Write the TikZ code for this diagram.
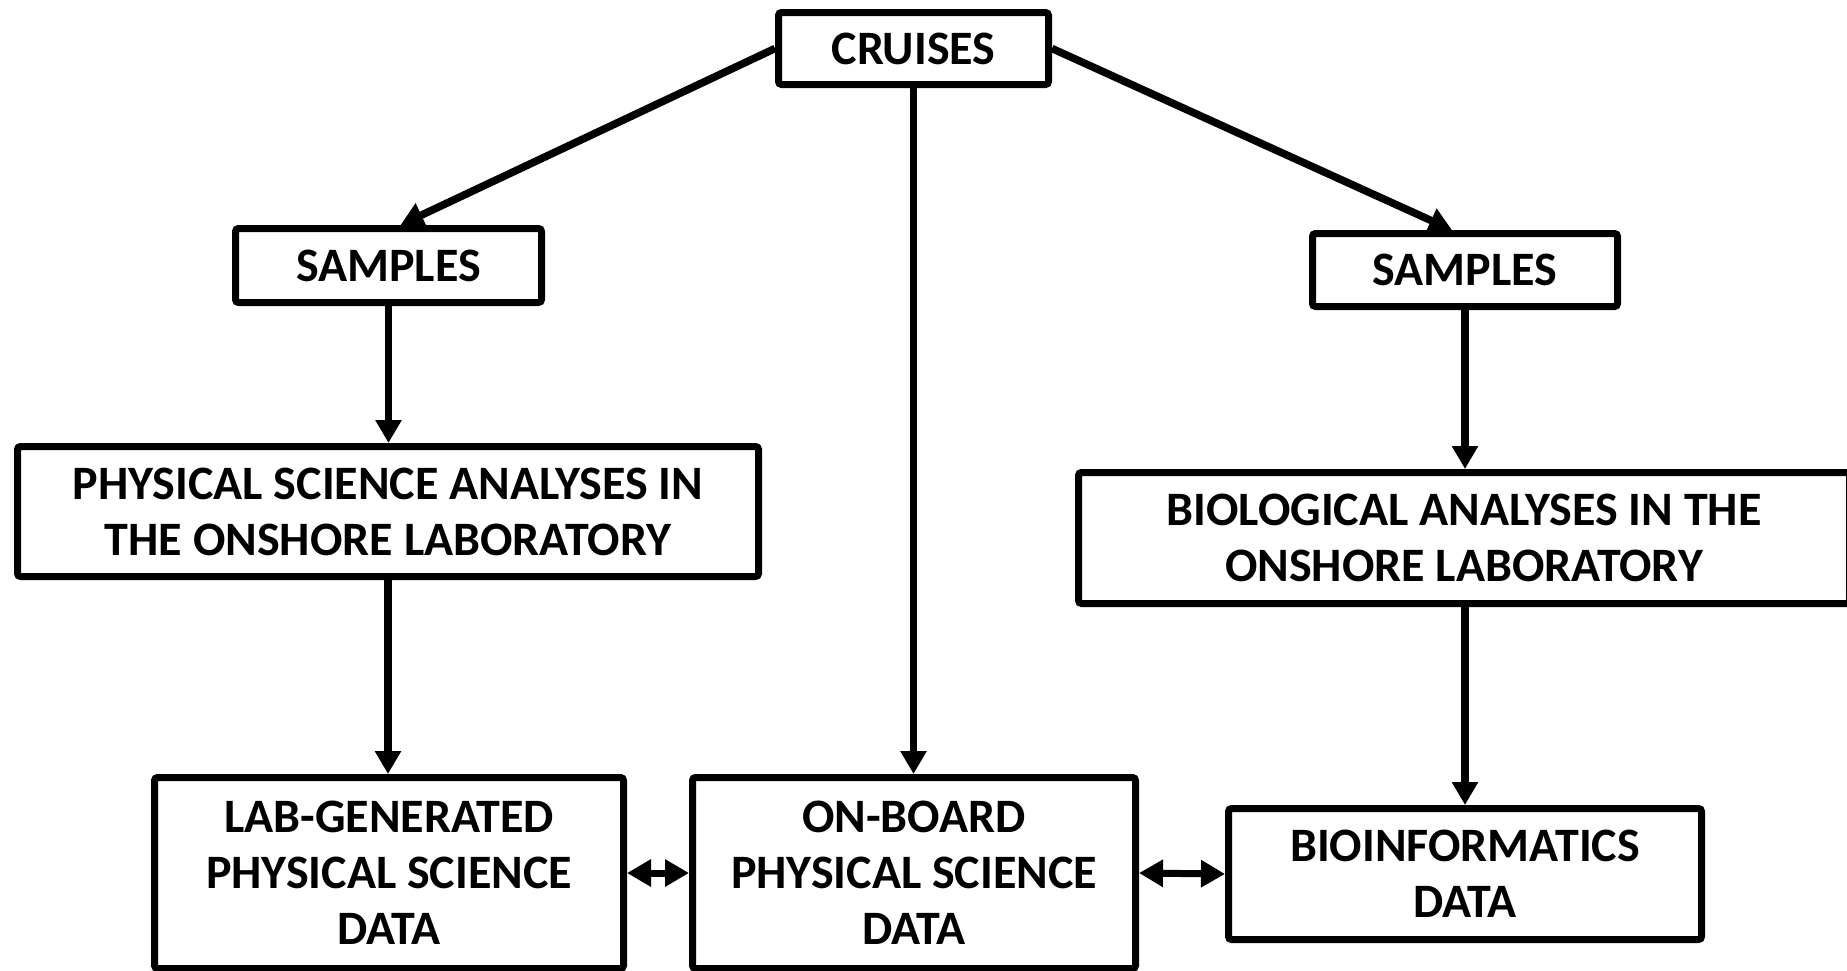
\documentclass[tikz,border=0pt]{standalone}
\usepackage{fontspec}
\setmainfont{Carlito}
\usetikzlibrary{arrows.meta,calc}
\begin{document}
\begin{tikzpicture}[x=0.5pt,y=-0.5pt,
  box/.style={draw=black,line width=3.5pt,rounded corners=1.5pt,fill=white,
    align=center,inner sep=0pt,font=\bfseries\fontsize{24}{28}\selectfont},
  flow/.style={line width=3.8pt,-{Triangle[length=11.5pt,width=12.5pt]}},
  both/.style={line width=3.5pt,{Triangle[length=12pt,width=13pt]}-{Triangle[length=12pt,width=13pt]}}]
\useasboundingbox (0,0) rectangle (1847,970);
% boxes
\node[box,minimum width=135pt,minimum height=36pt] (cru) at (913.5,48.5) {CRUISES};
\node[box,minimum width=153pt,minimum height=37pt] (ls) at (388.5,265.5) {SAMPLES};
\node[box,minimum width=152.5pt,minimum height=36.5pt] (rs) at (1465,270) {SAMPLES};
\node[box,minimum width=370.5pt,minimum height=65pt] (phys) at (388,511.5)
  {PHYSICAL SCIENCE ANALYSES IN\\THE ONSHORE LABORATORY};
\node[box,minimum width=385.5pt,minimum height=65.5pt] (bio) at (1464,538)
  {BIOLOGICAL ANALYSES IN THE\\ONSHORE LABORATORY};
\node[box,minimum width=234.5pt,minimum height=95.5pt] (lab) at (389,873)
  {LAB-GENERATED\\PHYSICAL SCIENCE\\DATA};
\node[box,minimum width=221.5pt,minimum height=95.5pt] (onb) at (914,873)
  {ON-BOARD\\PHYSICAL SCIENCE\\DATA};
\node[box,minimum width=236.5pt,minimum height=65.5pt] (binf) at (1465,874)
  {BIOINFORMATICS\\DATA};
% connectors
\draw[flow] (cru.west) -- ([xshift=6pt]ls.north);
\draw[flow] (cru.east) -- ([xshift=-6.5pt]rs.north);
\draw[flow] (cru.south) -- (cru.south |- onb.north);
\draw[flow] (ls.south) -- (ls.south |- phys.north);
\draw[flow] (phys.south) -- (phys.south |- lab.north);
\draw[flow] (rs.south) -- (rs.south |- bio.north);
\draw[flow] (rs.south |- bio.south) -- (rs.south |- binf.north);
\draw[both] (lab.east) -- (onb.west);
\draw[both] (onb.east) -- (binf.west);
\end{tikzpicture}
\end{document}
